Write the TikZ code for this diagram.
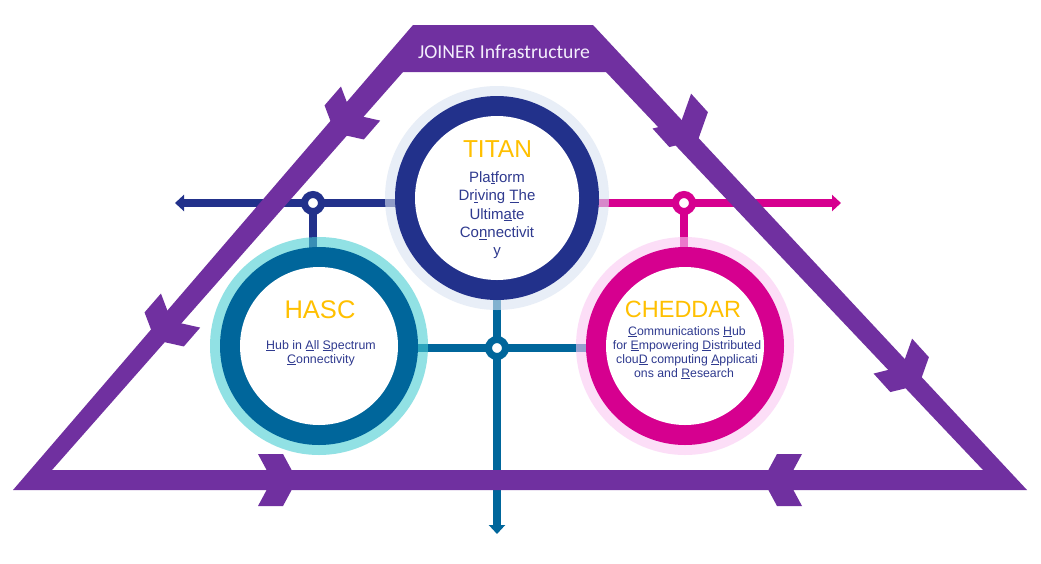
\documentclass[tikz,border=0pt]{standalone}
\usepackage{fontspec}
\setmainfont{Liberation Sans}
\newfontfamily\calib{Carlito}
\usetikzlibrary{arrows.meta}
\definecolor{jpurple}{HTML}{7030A0}
\definecolor{tnavy}{HTML}{22318B}
\definecolor{tteal}{HTML}{00669B}
\definecolor{tmag}{HTML}{D6008F}
\definecolor{ttext}{HTML}{2F3A8F}
\definecolor{tyel}{HTML}{FFC000}
\definecolor{jlabel}{HTML}{F3EEFC}
\definecolor{haloT}{RGB}{217,227,242}
\definecolor{haloH}{RGB}{72,205,210}
\definecolor{haloC}{RGB}{250,200,243}
\newcommand\jchev[3]{\fill[jpurple, shift={(#1,#2)}, rotate=#3] (0,0) -- (-14,-26) -- (-39,-26) -- (-25,0) -- (-39,26) -- (-14,26) -- cycle;}
\begin{document}
\begin{tikzpicture}[x=1pt,y=-1pt,
  metro/.style={line width=7.5pt},
  mtip/.style={-{Triangle[length=9pt,width=16pt]}},
  station/.style={line width=7pt, fill=white},
  halo/.style={opacity=0.6},
  title/.style={text=tyel, anchor=base, inner sep=0pt},
  body/.style={text=ttext, anchor=base, inner sep=0pt},
]
\useasboundingbox (0,0) rectangle (1041,563);
\fill[white] (0,0) rectangle (1041,563);
% key positions
\coordinate (titan) at (497,198);
\coordinate (hasc) at (319,346);
\coordinate (ched) at (685,346);
\coordinate (sN) at (313,203);
\coordinate (sM) at (684,203);
\coordinate (sT) at (497,348);
\coordinate (navyEnd) at (175,203);
\coordinate (magEnd) at (841,203);
\coordinate (tealEnd) at (497,534);
% metro lines
\draw[metro, tnavy, mtip] (titan |- sN) -- (navyEnd);
\draw[metro, tnavy] (sN) -- (sN |- hasc);
\draw[metro, tmag, mtip] (titan |- sM) -- (magEnd);
\draw[metro, tmag] (sM) -- (sM |- ched);
\draw[metro, tteal] (hasc |- sT) -- (ched |- sT);
\draw[metro, tteal, mtip] (titan) -- (tealEnd);
% stations
\draw[station, draw=tnavy] (sN) circle[radius=8.5];
\draw[station, draw=tmag] (sM) circle[radius=8.5];
\draw[station, draw=tteal] (sT) circle[radius=8.5];
% purple frame
\fill[jpurple, even odd rule] (413,25) -- (593,25) -- (1027,490) -- (13,490) -- cycle
  (403,72) -- (606,72) -- (983,470) -- (52,470) -- cycle;
\jchev{297}{480}{0}
\jchev{763}{480}{-180}
\jchev{335}{133}{-130.96}
\jchev{155}{340}{-130.96}
\jchev{698}{140}{-47.85}
\jchev{919}{385}{-47.85}
\node[font=\calib\fontsize{19.7}{20}\selectfont, text=jlabel, anchor=base, inner sep=0pt] (joiner) at (504,58) {JOINER Infrastructure};
% circles
\fill[haloT, halo] (titan) circle[radius=112];
\fill[tnavy] (titan) circle[radius=102];
\fill[white] (titan) circle[radius=82];
\fill[haloH, halo] (hasc) circle[radius=109];
\fill[tteal] (hasc) circle[radius=99];
\fill[white] (hasc) circle[radius=79];
\fill[haloC, halo] (ched) circle[radius=109];
\fill[tmag] (ched) circle[radius=99];
\fill[white] (ched) circle[radius=79];
% TITAN text
\node[title, font=\fontsize{24.5}{25}\selectfont] (titanT) at (497.5,157) {TITAN};
\begin{scope}[every node/.style={body, font=\fontsize{15}{16}\selectfont}]
\node (t1) at (497,182) {Pla\underline{t}form};
\node (t2) at (497,200.5) {Dr\underline{i}ving \underline{T}he};
\node (t3) at (497,219) {Ultim\underline{a}te};
\node (t4) at (497,237.5) {Co\underline{n}nectivit};
\node (t5) at (497,255) {y};
\end{scope}
% HASC text
\node[title, font=\fontsize{25.5}{26}\selectfont] (hascT) at (320,318) {HASC};
\begin{scope}[every node/.style={body, font=\fontsize{12.4}{13}\selectfont}]
\node (h1) at (321,349) {\underline{H}ub in \underline{A}ll \underline{S}pectrum};
\node (h2) at (321,363) {\underline{C}onnectivity};
\end{scope}
% CHEDDAR text
\node[title, font=\fontsize{23.5}{24}\selectfont] (chedT) at (683,317) {CHEDDAR};
\begin{scope}[every node/.style={body, font=\fontsize{12.3}{13}\selectfont}]
\node (c1) at (687,335) {\underline{C}ommunications \underline{H}ub};
\node (c2) at (687,349) {for \underline{E}mpowering \underline{D}istributed};
\node (c3) at (687,363) {clou\underline{D} computing \underline{A}pplicati};
\node (c4) at (684,377) {ons and \underline{R}esearch};
\end{scope}
\end{tikzpicture}
\end{document}
